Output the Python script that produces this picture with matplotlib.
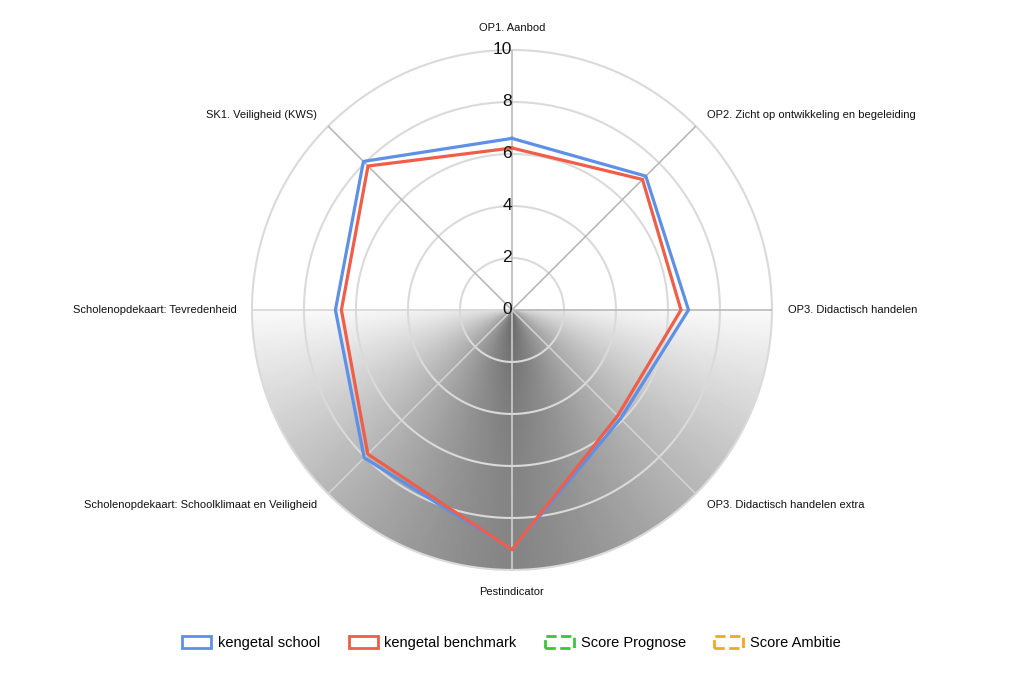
import numpy as np
import matplotlib.pyplot as plt
from matplotlib.patches import Patch

plt.rcParams['font.family'] = ['Liberation Sans', 'DejaVu Sans']

# ========== DATA ==========

categories = [
    "OP1. Aanbod",
    "OP2. Zicht op ontwikkeling en begeleiding",
    "OP3. Didactisch handelen",
    "OP3. Didactisch handelen extra",
    "Pestindicator",
    "Scholenopdekaart: Schoolklimaat en Veiligheid",
    "Scholenopdekaart: Tevredenheid",
    "SK1. Veiligheid (KWS)",
]
school = [6.6, 7.28, 6.79, 5.91, 9.22, 8.04, 6.79, 8.08]
benchmark = [6.23, 7.1, 6.5, 5.75, 9.22, 7.84, 6.56, 7.83]
r_ticks = [0, 2, 4, 6, 8, 10]

legend_labels = ["kengetal school", "kengetal benchmark", "Score Prognose", "Score Ambitie"]
legend_colors = ["#5E90E6", "#EE5E48", "#3DC43D", "#F4A81F"]

# ========== SETUP ==========

fig = plt.figure(figsize=(10.23, 6.8), dpi=100)
ax = fig.add_axes([0.2463, 0.1618, 0.5083, 0.7647], projection="polar")
ax.set_theta_zero_location("N")
ax.set_theta_direction(-1)
ax.set_ylim(0, 10)

n = len(categories)
angles = np.arange(n) * 2 * np.pi / n

# grey shading in the lower half
th = np.linspace(np.pi / 2, 3 * np.pi / 2, 241)
rr = np.linspace(0, 10, 121)
TH, RR = np.meshgrid(th, rr)
t = np.abs(TH - np.pi) / (np.pi / 2)
light = 0.52 + 0.46 * t ** 1.25 - 0.12 * (1 - RR / 10) ** 3
ax.pcolormesh(TH, RR, light, cmap="gray", vmin=0, vmax=1, shading="gouraud",
              zorder=0, rasterized=True)

# ========== GRID ==========

ax.grid(False)
ax.spines["polar"].set_visible(False)
ax.set_xticks([])
ax.set_yticks([])
circ = np.linspace(0, 2 * np.pi, 400)
for r in r_ticks[1:]:
    ax.plot(circ, np.full_like(circ, r), color="#dadada", lw=1.5, zorder=1, clip_on=False)
for a in angles:
    lower = np.pi / 2 < a < 3 * np.pi / 2 + 0.01
    ax.plot([a, a], [0, 10], color="#d4d4d4" if lower else "#b4b4b4", lw=1.1, zorder=1)

for r in r_ticks:
    ax.text(0, r, str(r), ha="right", va="center", fontsize=12.5, color="#111111", zorder=5)

# ========== SERIES ==========

a_closed = np.append(angles, angles[0])
ax.plot(a_closed, school + school[:1], color=legend_colors[0], lw=2.3, zorder=3)
ax.plot(a_closed, benchmark + benchmark[:1], color=legend_colors[1], lw=2.3, zorder=4)

# ========== LABELS ==========

for a, lab in zip(angles, categories):
    s = np.sin(a)
    if abs(s) < 0.01:
        ha = "center"
        rad = 10.85
    else:
        ha = "left" if s > 0 else "right"
        rad = 10.6
    ax.text(a, rad, lab, ha=ha, va="center", fontsize=8, color="#111111")

handles = [
    Patch(facecolor="none", edgecolor=legend_colors[0], lw=2),
    Patch(facecolor="none", edgecolor=legend_colors[1], lw=2),
    Patch(facecolor="none", edgecolor=legend_colors[2], lw=2, linestyle="--"),
    Patch(facecolor="none", edgecolor=legend_colors[3], lw=2, linestyle="--"),
]
fig.legend(handles, legend_labels, loc="center", bbox_to_anchor=(0.5, 0.054), ncol=4,
           frameon=False, fontsize=10.5, handlelength=2.0, handleheight=0.9,
           columnspacing=1.95, handletextpad=0.45)

plt.savefig("out.png", dpi=100)
